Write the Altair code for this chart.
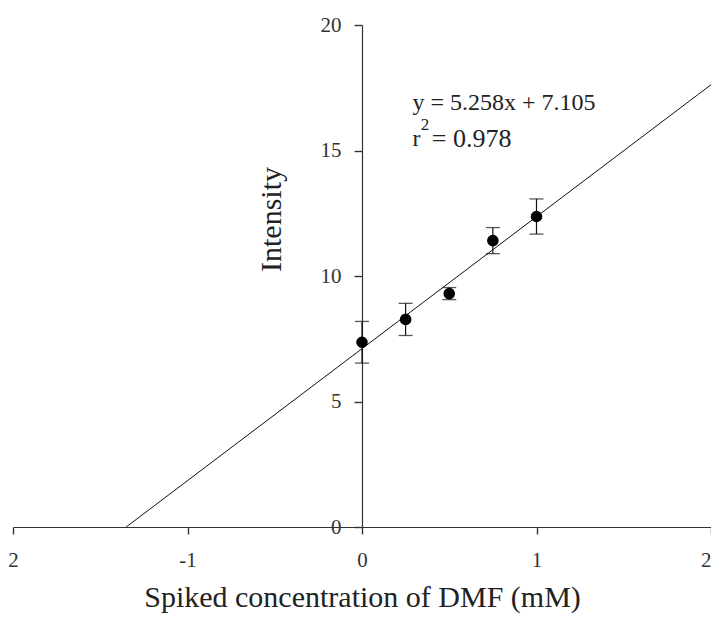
import altair as alt
import pandas as pd
import json

# ---- data ----
conc = [0.0, 0.25, 0.5, 0.75, 1.0]
intensity = [7.36, 8.27, 9.30, 11.41, 12.37]
err = [0.83, 0.64, 0.24, 0.52, 0.70]

slope = 5.258
intercept = 7.105
r2 = 0.978

x_tick_values = [-2, -1, 0, 1, 2]
x_tick_labels = ["2", "-1", "0", "1", "2"]
y_tick_values = [0, 5, 10, 15, 20]

FONT = "Liberation Serif"

pts = pd.DataFrame({"x": conc, "y": intensity, "lo": [a - b for a, b in zip(intensity, err)],
                    "hi": [a + b for a, b in zip(intensity, err)]})

x0 = -intercept / slope
line_df = pd.DataFrame({"x": [x0, 2.0], "y": [slope * x0 + intercept, slope * 2.0 + intercept]})

xscale = alt.Scale(domain=[-2, 2], nice=False, zero=False)
yscale = alt.Scale(domain=[0, 20], nice=False)

label_expr = "{}[indexof({}, datum.value)]".format(json.dumps(x_tick_labels), json.dumps(x_tick_values))

xaxis = alt.Axis(values=x_tick_values, labelExpr=label_expr, grid=False, ticks=True, tickSize=7,
                 tickWidth=1.4, tickColor="#333", tickOpacity=1,
                 labelFontSize=21, labelPadding=15, labelFlush=False, labelFont=FONT,
                 labelAlign=alt.ExprRef(expr="datum.value >= 2 ? 'right' : 'center'"),
                 labelColor="#333", domainColor="#333", domainWidth=1.2,
                 title="Spiked concentration of DMF (mM)", titleFont=FONT, titleFontSize=30,
                 titleFontWeight="normal", titleColor="#222", titlePadding=12)
yaxis = alt.Axis(values=y_tick_values, grid=False, ticks=True, tickSize=8, offset=-349,
                 tickWidth=1.4, tickColor="#333", tickOpacity=1,
                 labelFontSize=21, labelPadding=13, labelFont=FONT, labelColor="#333",
                 domainColor="#333", domainWidth=1.2,
                 title="Intensity", titleFont=FONT, titleFontSize=30, titleFontWeight="normal",
                 titleColor="#222", titleX=-91, titleY=194, titleAlign="center",
                 titleBaseline="middle", titleAngle=270)


def X(field):
    return alt.X(field, type="quantitative", scale=xscale, axis=xaxis)


def Y(field):
    return alt.Y(field, type="quantitative", scale=yscale, axis=yaxis)


reg = alt.Chart(line_df).mark_line(color="#111", strokeWidth=1).encode(x=X("x"), y=Y("y"))

bars = alt.Chart(pts).mark_rule(color="#111", strokeWidth=1.2).encode(
    x=X("x"), y=Y("lo"), y2="hi:Q")
cap_lo = alt.Chart(pts).mark_tick(orient="horizontal", size=14, thickness=1.3, color="#111").encode(
    x=X("x"), y=Y("lo"))
cap_hi = alt.Chart(pts).mark_tick(orient="horizontal", size=14, thickness=1.3, color="#111").encode(
    x=X("x"), y=Y("hi"))
dots = alt.Chart(pts).mark_circle(size=135, color="#000", opacity=1).encode(
    x=X("x"), y=Y("y"))

eq_text = "y = {:.3f}x + {:.3f}".format(slope, intercept)
ann = pd.DataFrame({
    "x": [0.289, 0.289, 0.337, 0.40],
    "y": [16.91, 15.46, 16.02, 15.46],
    "t": [eq_text, "r", "2", "= {:.3f}".format(r2)],
    "fs": [24, 24, 17, 26],
})
texts = alt.Chart(ann).mark_text(align="left", baseline="middle", font=FONT, color="#222").encode(
    x=X("x"), y=Y("y"), text="t:N",
    size=alt.Size("fs:Q", scale=None, legend=None))

chart = alt.layer(reg, bars, cap_lo, cap_hi, dots, texts).properties(
    width=698, height=502,
    autosize=alt.AutoSizeParams(type="none"),
    padding={"left": 5, "top": 17, "right": 0, "bottom": 92},
).configure_view(stroke=None)

chart.save("out.html", embed_options={"renderer": "svg", "actions": False})
